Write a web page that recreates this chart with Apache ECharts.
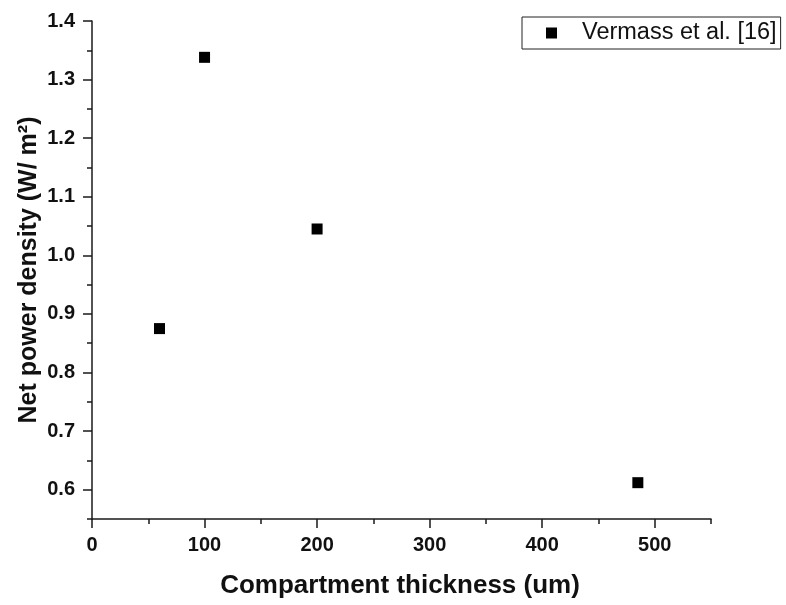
<!DOCTYPE html>
<html>
<head>
<meta charset="utf-8">
<script src="https://cdn.jsdelivr.net/npm/echarts@6/dist/echarts.min.js"></script>
<style>html,body{margin:0;padding:0;background:#fff;}#c{width:786px;height:605px;}</style>
</head>
<body>
<div id="c"></div>
<script>
// Data
const seriesName = 'Vermass et al. [16]';
const thickness = [60, 100, 200, 485];
const powerDensity = [0.875, 1.338, 1.045, 0.612];
const xMajorTicks = [0, 100, 200, 300, 400, 500];
const xMinorTicks = [50, 150, 250, 350, 450, 550];
const yMajorTicks = [0.6, 0.7, 0.8, 0.9, 1.0, 1.1, 1.2, 1.3, 1.4];
const yMinorTicks = [0.55, 0.65, 0.75, 0.85, 0.95, 1.05, 1.15, 1.25, 1.35];
const xTitle = 'Compartment thickness (um)';
const yTitle = 'Net power density (W/ m²)';

const points = thickness.map((x, i) => [x, powerDensity[i]]);
const FONT = 'Liberation Sans, Arial, sans-serif';
const AX = '#1a1a1a';

const chart = echarts.init(document.getElementById('c'), null, {renderer: 'canvas'});
const grid = {left: 92, top: 21, right: 75, bottom: 86, containLabel: false};
const xBase = {type: 'value', min: 0, max: 550, gridIndex: 0, position: 'bottom', splitLine: {show: false}};
const yBase = {type: 'value', min: 0.55, max: 1.4, gridIndex: 0, position: 'left', splitLine: {show: false}};
chart.setOption({
  animation: false,
  backgroundColor: '#fff',
  grid: grid,
  legend: {
    show: true,
    left: 522, top: 17,
    orient: 'horizontal',
    data: [seriesName],
    icon: 'rect',
    itemWidth: 11, itemHeight: 11,
    itemStyle: {color: '#000', opacity: 1},
    borderColor: '#222', borderWidth: 1,
    padding: [3, 4, 3, 24],
    textStyle: {fontFamily: FONT, fontSize: 23.5, color: '#111', padding: [0, 0, 0, 20], lineHeight: 26}
  },
  xAxis: [
    Object.assign({}, xBase, {
      axisLine: {show: true, lineStyle: {color: AX, width: 1.5}},
      axisTick: {show: true, inside: false, length: 9, customValues: xMajorTicks, lineStyle: {color: AX, width: 1.5}},
      axisLabel: {show: true, customValues: xMajorTicks, margin: 16, fontFamily: FONT, fontSize: 20, fontWeight: 'bold', color: '#111'}
    }),
    Object.assign({}, xBase, {
      axisLine: {show: false},
      axisTick: {show: true, inside: false, length: 5, customValues: xMinorTicks, lineStyle: {color: AX, width: 1.5}},
      axisLabel: {show: false}
    })
  ],
  yAxis: [
    Object.assign({}, yBase, {
      axisLine: {show: true, lineStyle: {color: AX, width: 1.5}},
      axisTick: {show: true, inside: false, length: 9, customValues: yMajorTicks, lineStyle: {color: AX, width: 1.5}},
      axisLabel: {show: true, customValues: yMajorTicks, margin: 17, fontFamily: FONT, fontSize: 20, fontWeight: 'bold', color: '#111',
        formatter: v => Number(v).toFixed(1)}
    }),
    Object.assign({}, yBase, {
      axisLine: {show: false},
      axisTick: {show: true, inside: false, length: 5, customValues: yMinorTicks, lineStyle: {color: AX, width: 1.5}},
      axisLabel: {show: false}
    })
  ],
  series: [{
    name: seriesName,
    type: 'scatter',
    xAxisIndex: 0, yAxisIndex: 0,
    symbol: 'rect',
    symbolSize: 11,
    itemStyle: {color: '#000', opacity: 1},
    emphasis: {disabled: true},
    data: points
  }],
  graphic: [
    {type: 'text', x: 400, y: 586, style: {text: xTitle, fontFamily: FONT, fontSize: 26, fontWeight: 'bold', fill: '#111', align: 'center', verticalAlign: 'middle'}},
    {type: 'text', x: 29, y: 270, rotation: Math.PI / 2, style: {text: yTitle, fontFamily: FONT, fontSize: 25, fontWeight: 'bold', fill: '#111', align: 'center', verticalAlign: 'middle'}}
  ]
});
</script>
</body>
</html>
